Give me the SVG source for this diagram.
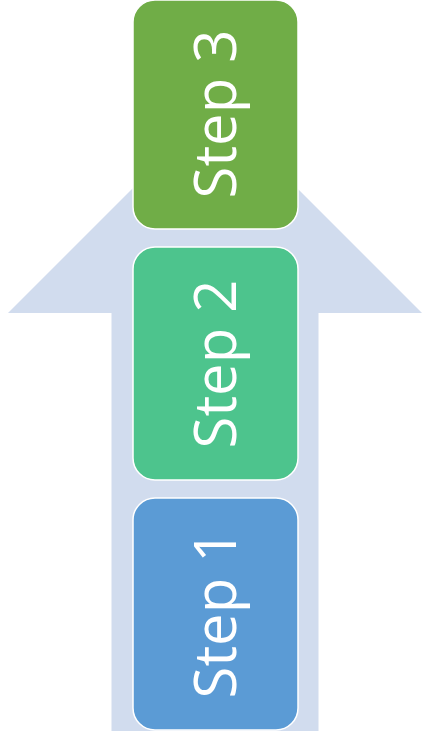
<svg xmlns="http://www.w3.org/2000/svg" width="422" height="740" viewBox="0 0 422 740">
  <style>
    .box { stroke: #ffffff; stroke-width: 1.5; }
    .label { font-family: "Open Sans", "Liberation Sans", sans-serif; font-size: 58px; fill: #ffffff; text-anchor: middle; }
  </style>
  <!-- background arrow pointing up -->
  <g id="arrow">
    <polygon points="215,106 422,313 318.5,313 318.5,731 111.5,731 111.5,313 8,313" fill="#d1dcee"/>
  </g>
  <g id="connectors"/>
  <g id="step1">
    <rect class="box" x="133" y="498" width="165" height="232" rx="22" fill="#5b9bd5"/>
    <text class="label" transform="translate(236,614) rotate(-90)">Step 1</text>
  </g>
  <g id="step2">
    <rect class="box" x="133" y="247" width="165" height="233" rx="22" fill="#4dc48d"/>
    <text class="label" transform="translate(236,364) rotate(-90)">Step 2</text>
  </g>
  <g id="step3">
    <rect class="box" x="133" y="0" width="165" height="229" rx="22" fill="#70ad47"/>
    <text class="label" transform="translate(236,114) rotate(-90)">Step 3</text>
  </g>
</svg>
